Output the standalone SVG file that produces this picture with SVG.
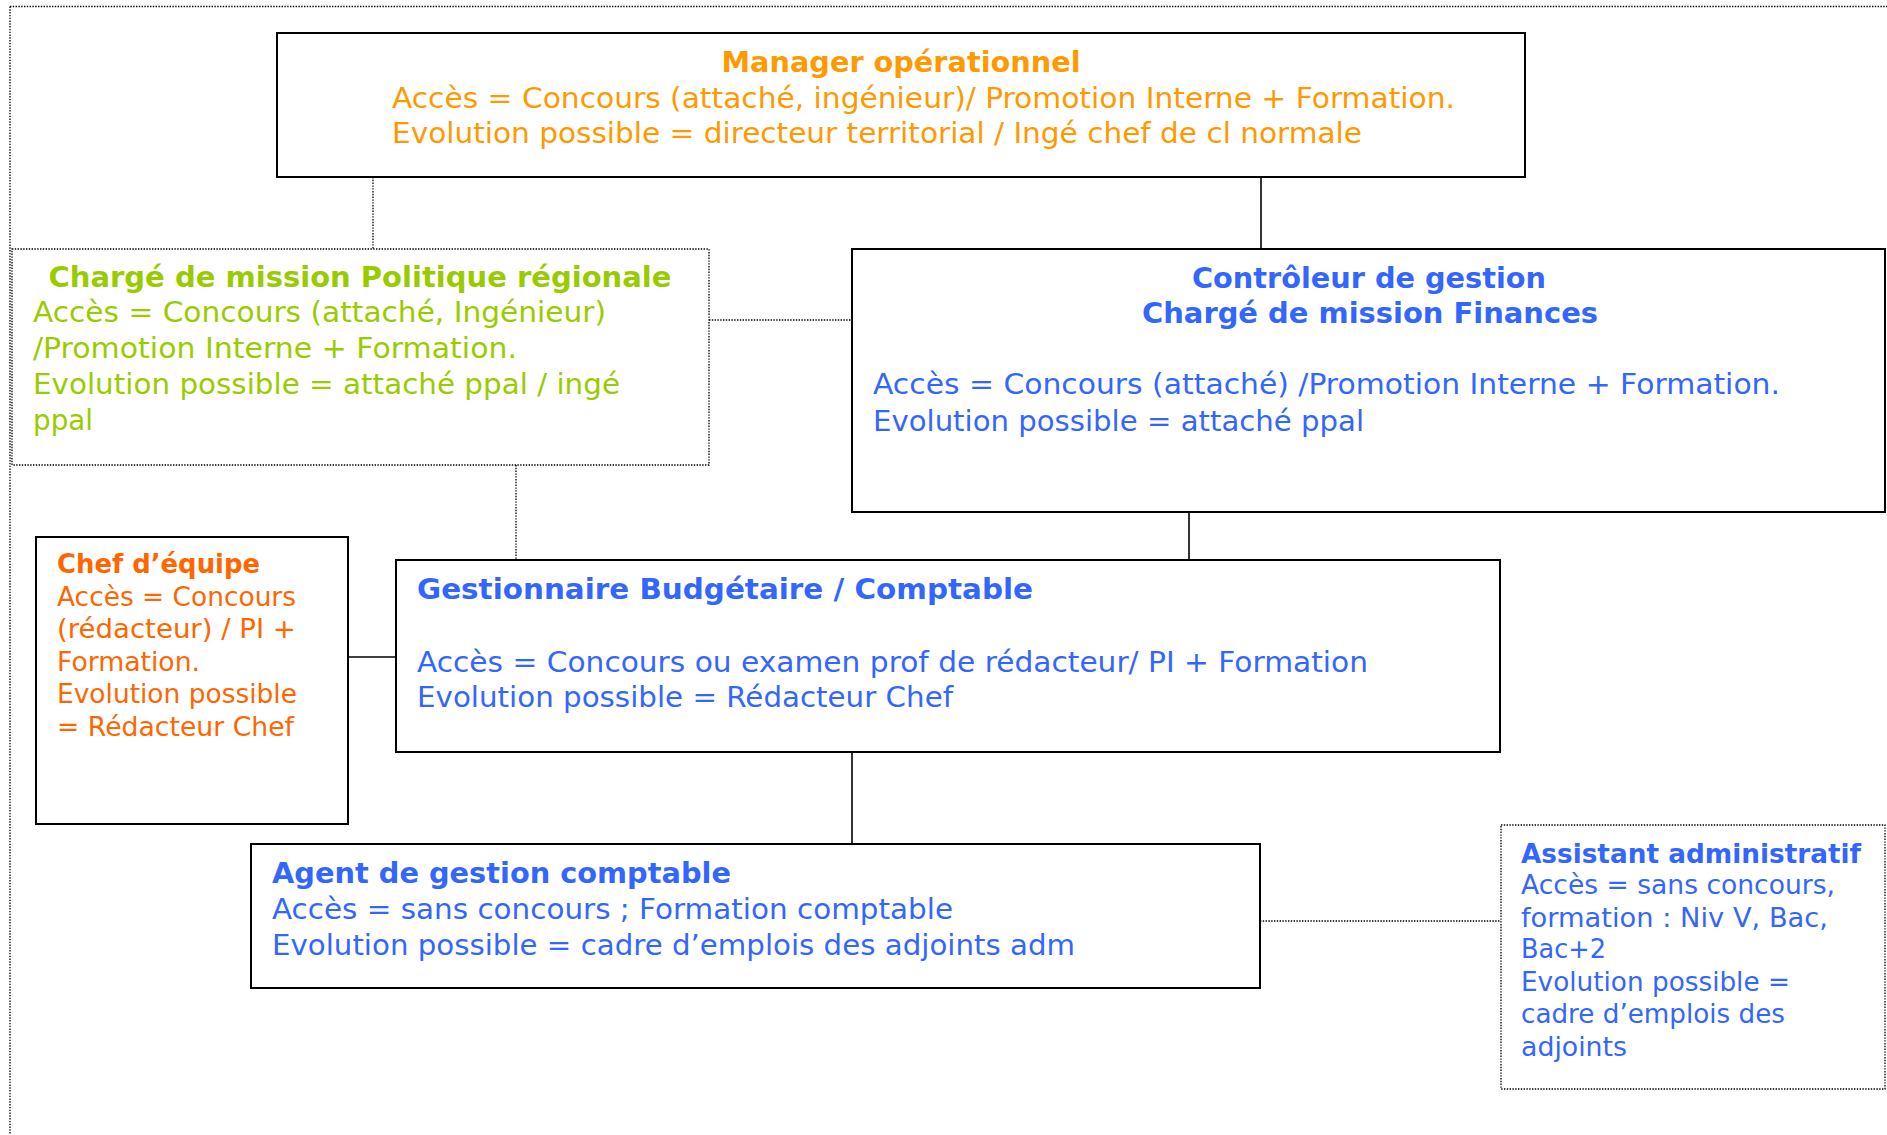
<svg xmlns="http://www.w3.org/2000/svg" width="1887" height="1135" viewBox="0 0 1887 1135">
<style>
.t{font-family:"DejaVu Sans",Verdana,sans-serif;font-size:28.5px}
.s{font-size:26px}
.b{font-weight:bold}
.or{fill:#FF9900}.gr{fill:#99CC00}.bl{fill:#3366FF}.rd{fill:#FF6600}
.box{fill:#fff;stroke:#000;stroke-width:2}
.dbox{fill:#fff;stroke:#000;stroke-width:1.3;stroke-dasharray:1.4 1.4}
.sl{stroke:#000;stroke-width:1.6;fill:none}
.dl{stroke:#000;stroke-width:1.3;stroke-dasharray:1.4 1.4;fill:none}
</style>
<rect width="1887" height="1135" fill="#fff"/>
<g id="frame">
<path class="dl" d="M10 6.5H1887M10 6.5V1135"/>
</g>
<g id="connectors">
<path class="dl" d="M373 177V249"/>
<path class="sl" d="M1261 177V249"/>
<path class="dl" d="M709 320H852"/>
<path class="sl" d="M1189 512V560"/>
<path class="dl" d="M516 465V560"/>
<path class="sl" d="M348 657H396"/>
<path class="sl" d="M852 752V844"/>
<path class="dl" d="M1260 921H1501"/>
</g>
<g id="manager">
<rect class="box" x="277" y="33" width="1248" height="144"/>
<text class="t b or" x="901" y="72" text-anchor="middle" textLength="359" lengthAdjust="spacingAndGlyphs">Manager opérationnel</text>
<text class="t or" x="392" y="108" textLength="1063" lengthAdjust="spacingAndGlyphs">Accès = Concours (attaché, ingénieur)/ Promotion Interne + Formation.</text>
<text class="t or" x="392" y="143" textLength="970" lengthAdjust="spacingAndGlyphs">Evolution possible = directeur territorial / Ingé chef de cl normale</text>
</g>
<g id="charge-politique">
<rect class="dbox" x="12" y="249" width="697" height="216"/>
<text class="t b gr" x="360" y="287" text-anchor="middle" textLength="623" lengthAdjust="spacingAndGlyphs">Chargé de mission Politique régionale</text>
<text class="t gr" x="33" y="322" textLength="573" lengthAdjust="spacingAndGlyphs">Accès = Concours (attaché, Ingénieur)</text>
<text class="t gr" x="33" y="358" textLength="484" lengthAdjust="spacingAndGlyphs">/Promotion Interne + Formation.</text>
<text class="t gr" x="33" y="394" textLength="587" lengthAdjust="spacingAndGlyphs">Evolution possible = attaché ppal / ingé</text>
<text class="t gr" x="33" y="430" textLength="60" lengthAdjust="spacingAndGlyphs">ppal</text>
</g>
<g id="controleur">
<rect class="box" x="852" y="249" width="1033" height="263"/>
<text class="t b bl" x="1369" y="288" text-anchor="middle" textLength="354" lengthAdjust="spacingAndGlyphs">Contrôleur de gestion</text>
<text class="t b bl" x="1370" y="323" text-anchor="middle" textLength="456" lengthAdjust="spacingAndGlyphs">Chargé de mission Finances</text>
<text class="t bl" x="873" y="394" textLength="907" lengthAdjust="spacingAndGlyphs">Accès = Concours (attaché) /Promotion Interne + Formation.</text>
<text class="t bl" x="873" y="431" textLength="491" lengthAdjust="spacingAndGlyphs">Evolution possible = attaché ppal</text>
</g>
<g id="chef-equipe">
<rect class="box" x="36" y="537" width="312" height="287"/>
<text class="t s b rd" x="57" y="573" textLength="203" lengthAdjust="spacingAndGlyphs">Chef d’équipe</text>
<text class="t s rd" x="57" y="606" textLength="239" lengthAdjust="spacingAndGlyphs">Accès = Concours</text>
<text class="t s rd" x="57" y="638" textLength="239" lengthAdjust="spacingAndGlyphs">(rédacteur) / PI +</text>
<text class="t s rd" x="57" y="671" textLength="143" lengthAdjust="spacingAndGlyphs">Formation.</text>
<text class="t s rd" x="57" y="703" textLength="240" lengthAdjust="spacingAndGlyphs">Evolution possible</text>
<text class="t s rd" x="57" y="736" textLength="237" lengthAdjust="spacingAndGlyphs">= Rédacteur Chef</text>
</g>
<g id="gestionnaire">
<rect class="box" x="396" y="560" width="1104" height="192"/>
<text class="t b bl" x="417" y="599" textLength="616" lengthAdjust="spacingAndGlyphs">Gestionnaire Budgétaire / Comptable</text>
<text class="t bl" x="417" y="672" textLength="951" lengthAdjust="spacingAndGlyphs">Accès = Concours ou examen prof de rédacteur/ PI + Formation</text>
<text class="t bl" x="417" y="707" textLength="536" lengthAdjust="spacingAndGlyphs">Evolution possible = Rédacteur Chef</text>
</g>
<g id="agent">
<rect class="box" x="251" y="844" width="1009" height="144"/>
<text class="t b bl" x="272" y="883" textLength="459" lengthAdjust="spacingAndGlyphs">Agent de gestion comptable</text>
<text class="t bl" x="272" y="919" textLength="681" lengthAdjust="spacingAndGlyphs">Accès = sans concours ; Formation comptable</text>
<text class="t bl" x="272" y="955" textLength="803" lengthAdjust="spacingAndGlyphs">Evolution possible = cadre d’emplois des adjoints adm</text>
</g>
<g id="assistant">
<rect class="dbox" x="1501" y="825" width="384" height="264"/>
<text class="t s b bl" x="1521" y="863" textLength="340" lengthAdjust="spacingAndGlyphs">Assistant administratif</text>
<text class="t s bl" x="1521" y="894" textLength="314" lengthAdjust="spacingAndGlyphs">Accès = sans concours,</text>
<text class="t s bl" x="1521" y="927" textLength="307" lengthAdjust="spacingAndGlyphs">formation : Niv V, Bac,</text>
<text class="t s bl" x="1521" y="958" textLength="85" lengthAdjust="spacingAndGlyphs">Bac+2</text>
<text class="t s bl" x="1521" y="991" textLength="269" lengthAdjust="spacingAndGlyphs">Evolution possible =</text>
<text class="t s bl" x="1521" y="1023" textLength="264" lengthAdjust="spacingAndGlyphs">cadre d’emplois des</text>
<text class="t s bl" x="1521" y="1056" textLength="106" lengthAdjust="spacingAndGlyphs">adjoints</text>
</g>
</svg>
